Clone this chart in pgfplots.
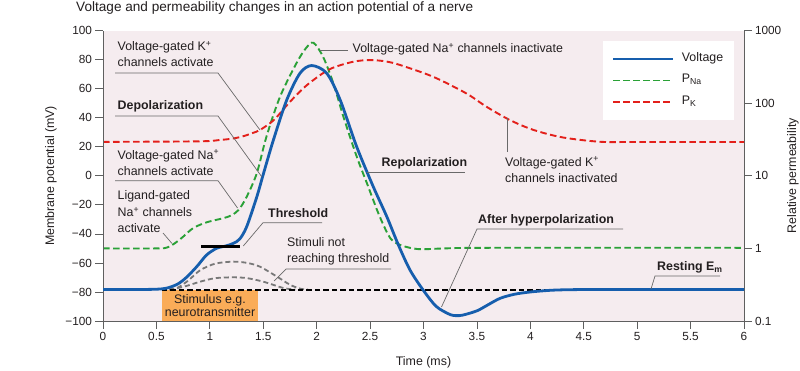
\documentclass[border=0pt]{standalone}
\usepackage{fontspec}
\setmainfont{Liberation Sans}
\usepackage{pgfplots}
\pgfplotsset{compat=1.18}
\definecolor{bgpink}{RGB}{245,236,239}
\definecolor{vblue}{RGB}{22,94,173}
\definecolor{nagreen}{RGB}{42,161,55}
\definecolor{kred}{RGB}{227,32,27}
\definecolor{axgray}{RGB}{95,95,95}
\definecolor{leader}{RGB}{105,105,105}
\definecolor{txt}{RGB}{35,31,32}
\definecolor{stimorange}{RGB}{250,172,88}
\definecolor{humpgray}{RGB}{120,120,120}
\newcommand{\fs}{\fontsize{12.4pt}{14pt}\selectfont}
\pgfplotsset{
 common/.style={
  scale only axis, width=641pt, height=290.3pt, at={(103pt,49pt)}, anchor=south west,
  xmin=0, xmax=6,
  tick align=outside, major tick length=7.5pt,
  tick style={axgray, line width=0.8pt},
  axis line style={axgray, line width=0.9pt, -},
  tick label style={font=\fontsize{11.8pt}{13pt}\selectfont, text=txt},
  /pgf/number format/assume math mode=true,
 }}
\begin{document}
\begin{tikzpicture}
\useasboundingbox (0,0) rectangle (800pt,370pt);
% right (log) axis with permeabilities
\begin{axis}[common, ymode=log, ymin=0.1, ymax=1000,
  axis x line=none, axis y line*=right, yminorticks=false,
  ytick={0.1,1,10,100,1000}, yticklabels={0.1,1,10,100,1000},
  axis background/.style={fill=bgpink},
  ylabel={Relative permeability},
  every axis y label/.style={at={(axis description cs:1.0764,0.5)}, rotate=90, anchor=center, font=\fs, text=txt}]
\addplot[nagreen, line width=1.9pt, dash pattern=on 6.5pt off 3.5pt, smooth] coordinates {
(0,1.0) (0.5,1.0) (0.6,1.03) (0.68,1.2) (0.75,1.45) (0.845,1.91) (0.97,2.29) (1.126,2.61)
(1.2,2.85) (1.27,3.4) (1.345,5.15) (1.44,10.9) (1.53,34.7) (1.657,123) (1.81,355) (1.9,575)
(1.97,682) (2.06,437) (2.156,189) (2.25,65.5) (2.375,18.4) (2.47,7.94) (2.59,2.75) (2.69,1.38)
(2.78,1.12) (2.9,1.0) (3.0,0.975) (3.2,1.0) (3.6,1.02) (6,1.02)};
\addplot[kred, line width=1.9pt, dash pattern=on 6.5pt off 3.5pt, smooth] coordinates {
(0,29.4) (0.9,29.9) (1.1,31.3) (1.2,32.4) (1.3,34.7) (1.4,38.9) (1.47,42.9) (1.6,58.9)
(1.75,104.7) (1.91,178.6) (2.12,293.8) (2.34,373) (2.5,394) (2.65,377) (2.78,337) (3.09,232)
(3.4,137) (3.59,89.5) (3.81,58.6) (4.03,42.9) (4.3,33.9) (4.65,29.5) (5,29.3) (6,29.3)};
\end{axis}
% left (voltage) axis
\begin{axis}[common, ymin=-100, ymax=100,
  axis x line*=bottom, axis y line*=left,
  xtick={0,0.5,1,1.5,2,2.5,3,3.5,4,4.5,5,5.5,6},
  xticklabels={0,0.5,1,1.5,2,2.5,3,3.5,4,4.5,5,5.5,6},
  ytick={-100,-80,-60,-40,-20,0,20,40,60,80,100},
  yticklabels={−100,−80,−60,−40,−20,0,20,40,60,80,100},
  xlabel={Time (ms)}, ylabel={Membrane potential (mV)},
  every axis x label/.style={at={(axis description cs:0.5,-0.1436)}, anchor=center, font=\fs, text=txt},
  every axis y label/.style={at={(axis description cs:-0.0811,0.5)}, rotate=90, anchor=center, font=\fs, text=txt},
  legend style={at={(axis description cs:0.985,0.9645)}, anchor=north east, draw=none, fill=white,
    font=\fs, text=txt, inner xsep=9pt, inner ysep=7pt, column sep=5pt,
    nodes={inner ysep=4.75pt, inner xsep=2pt, text height=8.5pt, text depth=3.5pt}},
  legend cell align=left,
  legend image code/.code={\draw[#1] (0pt,0pt) -- (60pt,0pt);}]
\fill[stimorange] (axis cs:0.549,-100) rectangle (axis cs:1.454,-78.3);
\addplot[humpgray, line width=1.8pt, dash pattern=on 5pt off 3pt, smooth, forget plot] coordinates {
(0.62,-78.3) (0.7,-77) (0.8,-72) (0.91,-65) (1.05,-60.5) (1.22,-59.1) (1.35,-60) (1.47,-62.6)
(1.63,-69.5) (1.75,-75) (1.85,-77.8) (1.92,-78.3)};
\addplot[humpgray, line width=1.8pt, dash pattern=on 5pt off 3pt, smooth, forget plot] coordinates {
(0.62,-78.3) (0.75,-76.5) (0.91,-72.9) (1.05,-70.5) (1.22,-69.9) (1.35,-70.5) (1.5,-72.9)
(1.69,-77.3) (1.8,-78.3)};
\addplot[black, line width=2pt, dash pattern=on 5.5pt off 3pt, forget plot] coordinates {
(0.55,-78.3) (4.3,-78.3)};
\addplot[vblue, line width=2.8pt, smooth] coordinates {
(0,-78.3) (0.3,-78.3) (0.5,-78.1) (0.6,-77.3) (0.7,-74.5) (0.78,-70) (0.877,-62.6) (0.97,-54.5)
(1.064,-49.9) (1.15,-48.3) (1.22,-46.5) (1.28,-43.5) (1.345,-35) (1.44,-14.4) (1.5,1)
(1.595,24.7) (1.72,52.3) (1.844,70.7) (1.953,76) (2.094,70.7) (2.22,52.3) (2.375,20)
(2.53,-7.5) (2.656,-28) (2.765,-47.6) (2.874,-64.9) (2.996,-78.6) (3.12,-90) (3.25,-95.6)
(3.31,-96.3) (3.37,-95.9) (3.5,-93) (3.6,-89) (3.716,-84.4) (3.85,-81.6) (4.0,-80)
(4.2,-78.8) (4.4,-78.4) (4.7,-78.3) (6,-78.3)};
\addlegendentry{Voltage}
\addlegendimage{nagreen, line width=1.9pt, dash pattern=on 6.5pt off 3.5pt}
\addlegendentry{P\textsubscript{Na}}
\addlegendimage{kred, line width=1.9pt, dash pattern=on 6.5pt off 3.5pt}
\addlegendentry{P\textsubscript{K}}
\addplot[black, line width=3pt, forget plot] coordinates {(0.92,-48.8) (1.28,-48.8)};
\end{axis}
% annotations in pixel coordinates
\begin{scope}[x=1pt, y=-1pt, shift={(0pt,370pt)}, every node/.style={text=txt, font=\fs, inner sep=0pt}]
\node[anchor=base west, font=\fontsize{13.6pt}{15pt}\selectfont] at (76,11.7) {Voltage and permeability changes in an action potential of a nerve};
\draw[leader, line width=0.7pt] (115,73) -- (218,73) -- (260,130);
\draw[leader, line width=0.7pt] (320,50) -- (348,50);
\draw[leader, line width=0.7pt] (115,116) -- (218,116) -- (261.7,176.7);
\draw[leader, line width=0.7pt] (115,180.7) -- (218,180.7) -- (237.5,208);
\draw[leader, line width=0.7pt] (163,233) -- (172,243.5);
\draw[leader, line width=0.7pt] (322,222.7) -- (263,222.7) -- (243.3,246);
\draw[leader, line width=0.7pt] (391,269) -- (286,269) -- (274,281);
\draw[leader, line width=0.7pt] (366.7,172.7) -- (465,172.7);
\draw[leader, line width=0.7pt] (507,118.5) -- (507,152);
\draw[leader, line width=0.7pt] (623,229) -- (477,229) -- (441.5,307);
\draw[leader, line width=0.7pt] (720,276) -- (655,276) -- (651,289);
\node[anchor=base west] at (117.5,51) {Voltage-gated K\textsuperscript{+}};
\node[anchor=base west] at (117.5,67) {channels activate};
\node[anchor=base west] at (352.5,52.5) {Voltage-gated Na\textsuperscript{+} channels inactivate};
\node[anchor=base west] at (117.5,109.5) {\bfseries Depolarization};
\node[anchor=base west] at (117.5,159) {Voltage-gated Na\textsuperscript{+}};
\node[anchor=base west] at (117.5,175.5) {channels activate};
\node[anchor=base west] at (117.5,199.5) {Ligand-gated};
\node[anchor=base west] at (117.5,216.5) {Na\textsuperscript{+} channels};
\node[anchor=base west] at (117.5,232.5) {activate};
\node[anchor=base west] at (268,217) {\bfseries Threshold};
\node[anchor=base west] at (287,246) {Stimuli not};
\node[anchor=base west] at (287,262.5) {reaching threshold};
\node[anchor=base west] at (381.5,166) {\bfseries Repolarization};
\node[anchor=base west] at (505,166) {Voltage-gated K\textsuperscript{+}};
\node[anchor=base west] at (505,182) {channels inactivated};
\node[anchor=base west] at (478,223.5) {\bfseries After hyperpolarization};
\node[anchor=base west] at (657,270.5) {\bfseries Resting E\textsubscript{m}};
\node[anchor=base] at (210,303) {Stimulus e.g.};
\node[anchor=base] at (210,316.5) {neurotransmitter};
\end{scope}
\end{tikzpicture}
\end{document}
